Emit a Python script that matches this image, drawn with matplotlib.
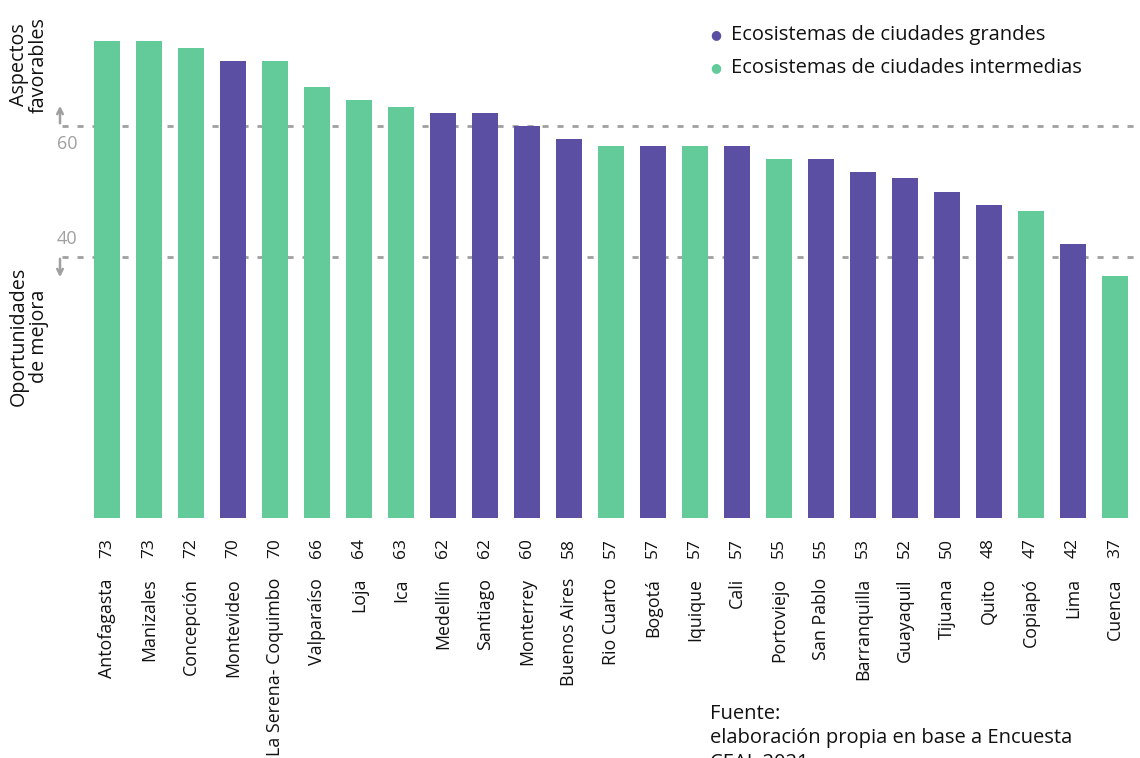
import matplotlib.pyplot as plt
from matplotlib.text import Annotation

plt.rcParams["font.family"] = ["Open Sans", "DejaVu Sans"]

cities = ["Antofagasta", "Manizales", "Concepción", "Montevideo", "La Serena- Coquimbo",
          "Valparaíso", "Loja", "Ica", "Medellín", "Santiago", "Monterrey", "Buenos Aires",
          "Rio Cuarto", "Bogotá", "Iquique", "Cali", "Portoviejo", "San Pablo",
          "Barranquilla", "Guayaquil", "Tijuana", "Quito", "Copiapó", "Lima", "Cuenca"]
values = [73, 73, 72, 70, 70, 66, 64, 63, 62, 62, 60, 58, 57, 57, 57, 57, 55, 55,
          53, 52, 50, 48, 47, 42, 37]
groups = ["i", "i", "i", "g", "i", "i", "i", "i", "g", "g", "g", "g", "i", "g", "i",
          "g", "i", "g", "g", "g", "g", "g", "i", "g", "i"]
legend_labels = ["Ecosistemas de ciudades grandes", "Ecosistemas de ciudades intermedias"]

purple = "#5B4FA4"
green = "#63CB99"
gray = "#A0A0A0"
dark = "#111111"
colors = [purple if g == "g" else green for g in groups]

W, H = 1140, 758
fig = plt.figure(figsize=(W / 100, H / 100), dpi=100)

# axes in pixel coords: left 62, right 1140, top 0, bottom 518
ax = fig.add_axes([62 / W, 1 - 518 / H, (W - 62) / W, 518 / H])
x = list(range(len(cities)))
ax.bar(x, values, width=0.64, color=colors, zorder=3)
ax.set_xlim(-(107 - 62) / 42, (W - 107) / 42)
ax.set_ylim(0, 518 / 6.53)
ax.axis("off")

for lvl in [60, 40]:
    ax.axhline(lvl, color=gray, lw=2, ls=(0, (2.2, 3.2)), zorder=1)

# values and names below bars
for xi, v, c in zip(x, values, cities):
    ax.annotate(str(v), (xi, 0), xytext=(0, -20), textcoords="offset pixels",
                rotation=90, ha="center", va="top", fontsize=12.5, color=dark)
    ax.annotate(c, (xi, 0), xytext=(0, -60), textcoords="offset pixels",
                rotation=90, ha="center", va="top", fontsize=12.8, color=dark)

# arrows and level labels
fig.add_artist(Annotation("", xy=(60 / W, 1 - 103 / H), xytext=(60 / W, 1 - 126 / H),
                          xycoords="figure fraction",
                          arrowprops=dict(arrowstyle="->", color=gray, lw=1.8)))
fig.add_artist(Annotation("", xy=(60 / W, 1 - 280 / H), xytext=(60 / W, 1 - 256 / H),
                          xycoords="figure fraction",
                          arrowprops=dict(arrowstyle="->", color=gray, lw=1.8)))
fig.text(67 / W, 1 - 144 / H, "60", color=gray, fontsize=13, ha="center", va="center")
fig.text(67 / W, 1 - 239 / H, "40", color=gray, fontsize=13, ha="center", va="center")

fig.text(29 / W, 1 - 65 / H, "Aspectos\nfavorables", rotation=90, ha="center", va="center",
         fontsize=14.2, color=dark, linespacing=1.0)
fig.text(29 / W, 1 - 336 / H, "Oportunidades\nde mejora", rotation=90, ha="center", va="center",
         fontsize=14.2, color=dark, linespacing=1.0)

# legend
for i, (lab, col) in enumerate(zip(legend_labels, [purple, green])):
    yy = 1 - (35 + 33 * i) / H
    fig.text(716 / W, yy, "\u25CF", color=col, fontsize=9, ha="center", va="center")
    fig.text(731 / W, yy, lab, color=dark, fontsize=14.5, ha="left", va="center")

fig.text(710 / W, 1 - 704 / H, "Fuente:\nelaboración propia en base a Encuesta\nCEAL 2021",
         ha="left", va="top", fontsize=14.5, color=dark, linespacing=1.3)

fig.savefig("out.png", dpi=100)
